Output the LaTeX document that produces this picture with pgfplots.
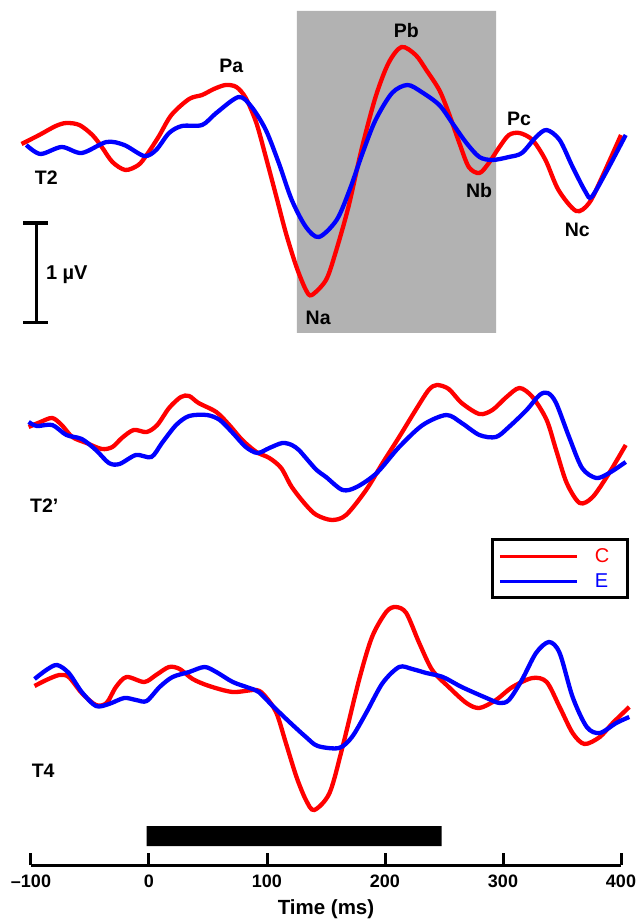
\documentclass[border=0pt]{standalone}
\usepackage{fontspec}
\setmainfont{Liberation Sans}
\usepackage{pgfplots}
\pgfplotsset{compat=1.18}
\definecolor{shade}{RGB}{178,178,178}
\definecolor{cred}{RGB}{255,0,0}
\definecolor{cblue}{RGB}{0,0,255}
\begin{document}
\begin{tikzpicture}
\begin{axis}[
  scale only axis, width=590pt, height=865pt,
  xmin=-100, xmax=400, ymin=0, ymax=865,
  clip=false,
  axis x line=bottom, axis y line=none,
  x axis line style={-, line width=3pt, black},
  xtick={-100,0,100,200,300,400},
  xticklabels={--100,0,100,200,300,400},
  tick align=inside, major tick length=12pt,
  every tick/.style={black, line width=3pt},
  xticklabel style={font=\bfseries\fontsize{18}{18}\selectfont, anchor=base, yshift=-22.7pt, inner sep=0pt},
  xlabel={\textbf{Time (ms)}},
  xlabel style={font=\fontsize{20.5}{20.5}\selectfont, at={(axis description cs:0.5,0)}, anchor=base, yshift=-49pt, inner sep=0pt},
  legend style={at={(axis description cs:1.0132,0.3776)}, anchor=north east, draw=black, line width=3pt,
    font=\fontsize{20}{20}\selectfont, inner xsep=6pt, inner ysep=4pt, row sep=0pt,
    nodes={inner sep=0pt, minimum height=25pt}},
  legend cell align=left,
  legend image code/.code={\draw[#1, line width=3.7pt] (0pt,0pt) -- (77pt,0pt);},
  trace/.style={line width=4.3pt, smooth, tension=0.5, no markers},
]
% shaded window
\addplot[fill=shade, draw=none, forget plot] coordinates {(125.3,854) (294.2,854) (294.2,532) (125.3,532) (125.3,854)};
% stimulus bar
\addplot[fill=black, draw=none, forget plot] coordinates {(-2,39) (248,39) (248,19) (-2,19) (-2,39)};
% scale bar 1 uV
\addplot[black, line width=3.5pt, forget plot] coordinates {(-95.4,642) (-95.4,542.3)};
\addplot[black, line width=3.5pt, forget plot] coordinates {(-106.6,642) (-85.4,642)};
\addplot[black, line width=3.5pt, forget plot] coordinates {(-106.6,542.3) (-85.4,542.3)};

% ---------- T2 ----------
\addplot[trace, cred] table[x=t, y expr=865-\thisrow{p}] {
t p
-108 144
-93 135
-79 126
-70 123
-59 125
-48 135
-40 147
-31 162
-20 170
-9 165
-2 155
8 137
19 115
34 99
45 95
55 89
65 85
74 87
82 98
91 123
99 157
108 197
116 233
125 267
133 290
138 295
150 280
158 253
169 207
180 150
192 97
203 63
214 47
226 55
235 70
246 90
254 113
263 143
271 167
280 173
288 163
297 147
305 135
314 133
325 140
336 160
347 190
362 211
373 203
384 177
400 135
};
\addlegendentry{\kern16pt\textcolor{cred}{C}\kern12pt}
\addplot[trace, cblue] table[x=t, y expr=865-\thisrow{p}] {
t p
-104 145
-92 154
-74 147
-57 153
-36 142
-21 145
-4 156
6 150
17 133
28 126
45 125
57 113
76 97
87 107
99 130
110 163
121 200
133 227
144 237
159 220
170 190
181 153
192 120
206 93
219 85
231 92
246 105
257 123
269 143
280 157
291 160
305 157
316 153
328 137
337 130
348 140
359 167
370 192
375 197
387 173
404 135
};
\addlegendentry{\kern16pt\textcolor{cblue}{E}\kern12pt}

% ---------- T2' ----------
\addplot[trace, cred, forget plot] table[x=t, y expr=865-\thisrow{p}] {
t p
-102 427
-92 422
-82 418
-74 425
-65 437
-53 443
-40 449
-31 447
-23 438
-13 430
-2 432
7 425
17 408
27 397
34 396
42 403
57 412
68 425
79 440
91 452
102 458
112 468
121 487
133 505
142 515
155 520
167 515
184 490
198 463
212 437
226 410
237 390
244 385
254 389
265 403
280 414
291 410
303 397
314 388
325 397
337 420
345 450
354 483
365 503
376 497
390 473
404 445
};
\addplot[trace, cblue, forget plot] table[x=t, y expr=865-\thisrow{p}] {
t p
-102 422
-95 426
-82 425
-70 435
-57 439
-45 450
-34 463
-25 464
-11 455
2 457
11 443
23 425
34 416
49 415
60 420
71 433
82 447
92 453
102 448
113 443
121 445
127 450
133 458
142 470
150 477
164 490
176 487
193 473
212 447
232 425
252 415
265 423
280 435
294 437
305 427
320 410
331 395
338 393
345 403
356 437
367 468
379 478
390 473
404 462
};

% ---------- T4 ----------
\addplot[trace, cred, forget plot] table[x=t, y expr=865-\thisrow{p}] {
t p
-97 686
-87 680
-76 675
-68 677
-57 693
-45 705
-36 703
-28 687
-19 677
-4 682
6 675
17 667
26 669
37 679
51 686
71 692
91 690
99 697
108 713
116 743
125 777
133 800
140 810
153 793
164 747
178 680
189 637
201 612
209 607
218 613
229 643
240 670
254 687
269 703
280 708
294 700
308 687
325 678
337 682
348 707
359 733
369 744
382 737
393 723
407 707
};
\addplot[trace, cblue, forget plot] table[x=t, y expr=865-\thisrow{p}] {
t p
-97 679
-87 670
-78 665
-68 673
-57 692
-45 706
-34 704
-21 698
-11 700
-2 701
9 687
20 677
34 672
47 667
57 672
71 682
85 688
93 692
104 705
119 722
133 737
143 746
161 748
172 737
184 713
198 683
212 667
223 669
235 673
249 677
265 687
286 698
297 703
305 700
316 680
328 653
339 642
348 653
359 697
371 727
382 733
396 723
407 717
};

% labels
\begin{scope}[every node/.style={font=\bfseries\fontsize{19.5}{19.5}\selectfont, inner sep=0pt, anchor=base}]
\node at (axis cs:69.7,792) {Pa};
\node at (axis cs:218,827) {Pb};
\node at (axis cs:143.4,540) {Na};
\node at (axis cs:279.8,667) {Nb};
\node at (axis cs:313.7,739) {Pc};
\node at (axis cs:362.9,628) {Nc};
\node at (axis cs:-87.1,680) {T2};
\node at (axis cs:-88.8,352) {T2’};
\node at (axis cs:-89.7,88) {T4};
\node[anchor=base west, font=\bfseries\fontsize{20}{20}\selectfont] at (axis cs:-87.4,585) {1 µV};
\end{scope}
\end{axis}
\pgfresetboundingbox
\path (-31pt,-54pt) rectangle (605pt,865pt);
\end{tikzpicture}
\end{document}
